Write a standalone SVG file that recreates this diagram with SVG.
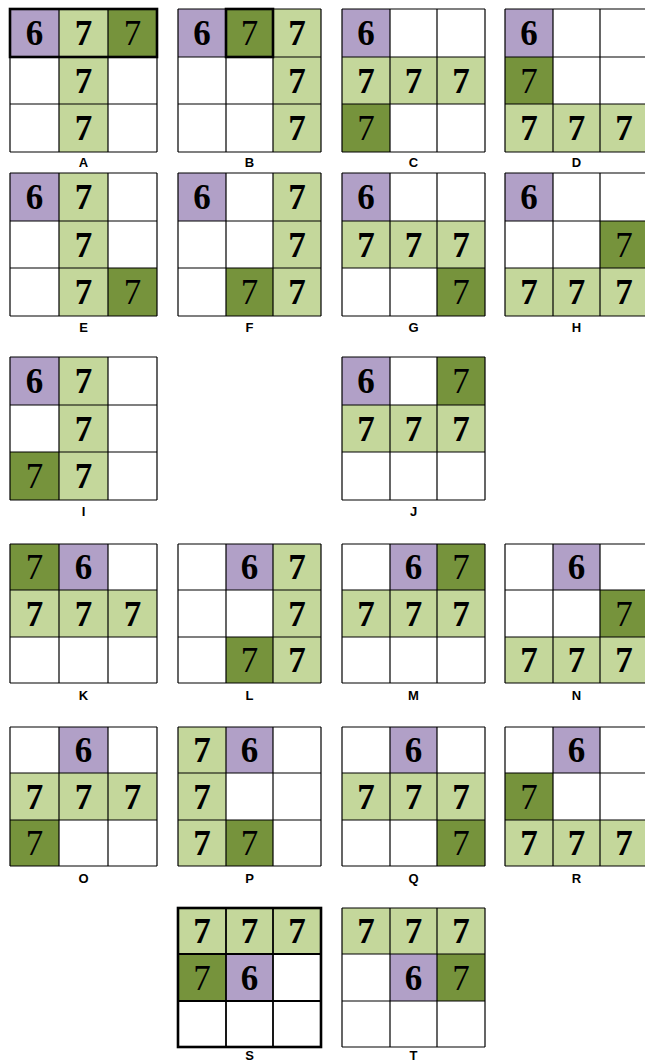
<svg xmlns="http://www.w3.org/2000/svg" xmlns:xlink="http://www.w3.org/1999/xlink" width="645" height="1061" viewBox="0 0 645 1061">
<style>
.bg{fill:#fff}
.p{fill:#b1a0c7}
.l{fill:#c4d79b}
.d{fill:#76933c}
.gl{fill:none;stroke:#000;stroke-width:1.2}
.tk{fill:none;stroke:#000;stroke-width:2.6}
.n{font-family:"Liberation Serif","Times New Roman",serif;font-size:35px;text-anchor:middle;fill:#000}
.b{font-weight:bold}
.lab{font-family:"Liberation Sans",Arial,sans-serif;font-weight:bold;font-size:13px;text-anchor:middle;fill:#000}
</style>
<defs>
<path id="g1" d="M0,0H147M0,48H147M0,95H147M0,143H147M0,0V143M49,0V143M98,0V143M147,0V143"/>
<path id="g2" d="M0,0H143M0,48H143M0,95H143M0,143H143M0,0V143M48,0V143M95,0V143M143,0V143"/>
<path id="g3" d="M0,0H147M0,46H147M0,93H147M0,139H147M0,0V139M49,0V139M98,0V139M147,0V139"/>
<path id="g4" d="M0,0H143M0,46H143M0,93H143M0,139H143M0,0V139M48,0V139M95,0V139M143,0V139"/>
</defs>
<rect width="645" height="1061" fill="#fff"/>

<g id="grid-A" transform="translate(10,9)">
<rect class="bg" width="147" height="143"/>
<rect class="p" x="0" y="0" width="49" height="48"/>
<rect class="l" x="49" y="0" width="49" height="143"/>
<rect class="d" x="98" y="0" width="49" height="48"/>
<use href="#g1" class="gl"/>
<rect class="tk" x="0" y="0" width="147" height="48"/>
<text class="n b" x="24.5" y="36">6</text>
<text class="n b" x="73.5" y="36">7</text>
<text class="n" x="122.5" y="36">7</text>
<text class="n b" x="73.5" y="83.5">7</text>
<text class="n b" x="73.5" y="131">7</text>
<text class="lab" x="73.5" y="158">A</text>
</g>

<g id="grid-B" transform="translate(178,9)">
<rect class="bg" width="143" height="143"/>
<rect class="p" x="0" y="0" width="48" height="48"/>
<rect class="d" x="48" y="0" width="47" height="48"/>
<rect class="l" x="95" y="0" width="48" height="143"/>
<use href="#g2" class="gl"/>
<rect class="tk" x="48" y="0" width="47" height="48"/>
<text class="n b" x="24" y="36">6</text>
<text class="n" x="71.5" y="36">7</text>
<text class="n b" x="119" y="36">7</text>
<text class="n b" x="119" y="83.5">7</text>
<text class="n b" x="119" y="131">7</text>
<text class="lab" x="71.5" y="158">B</text>
</g>

<g id="grid-C" transform="translate(342,9)">
<rect class="bg" width="143" height="143"/>
<rect class="p" x="0" y="0" width="48" height="48"/>
<rect class="l" x="0" y="48" width="143" height="47"/>
<rect class="d" x="0" y="95" width="48" height="48"/>
<use href="#g2" class="gl"/>
<text class="n b" x="24" y="36">6</text>
<text class="n b" x="24" y="83.5">7</text>
<text class="n b" x="71.5" y="83.5">7</text>
<text class="n b" x="119" y="83.5">7</text>
<text class="n" x="24" y="131">7</text>
<text class="lab" x="71.5" y="158">C</text>
</g>

<g id="grid-D" transform="translate(505,9)">
<rect class="bg" width="143" height="143"/>
<rect class="p" x="0" y="0" width="48" height="48"/>
<rect class="d" x="0" y="48" width="48" height="47"/>
<rect class="l" x="0" y="95" width="143" height="48"/>
<use href="#g2" class="gl"/>
<text class="n b" x="24" y="36">6</text>
<text class="n" x="24" y="83.5">7</text>
<text class="n b" x="24" y="131">7</text>
<text class="n b" x="71.5" y="131">7</text>
<text class="n b" x="119" y="131">7</text>
<text class="lab" x="71.5" y="158">D</text>
</g>

<g id="grid-E" transform="translate(10,173)">
<rect class="bg" width="147" height="143"/>
<rect class="p" x="0" y="0" width="49" height="48"/>
<rect class="l" x="49" y="0" width="49" height="143"/>
<rect class="d" x="98" y="95" width="49" height="48"/>
<use href="#g1" class="gl"/>
<text class="n b" x="24.5" y="36">6</text>
<text class="n b" x="73.5" y="36">7</text>
<text class="n b" x="73.5" y="83.5">7</text>
<text class="n b" x="73.5" y="131">7</text>
<text class="n" x="122.5" y="131">7</text>
<text class="lab" x="73.5" y="159">E</text>
</g>

<g id="grid-F" transform="translate(178,173)">
<rect class="bg" width="143" height="143"/>
<rect class="p" x="0" y="0" width="48" height="48"/>
<rect class="l" x="95" y="0" width="48" height="143"/>
<rect class="d" x="48" y="95" width="47" height="48"/>
<use href="#g2" class="gl"/>
<text class="n b" x="24" y="36">6</text>
<text class="n b" x="119" y="36">7</text>
<text class="n b" x="119" y="83.5">7</text>
<text class="n b" x="119" y="131">7</text>
<text class="n" x="71.5" y="131">7</text>
<text class="lab" x="71.5" y="159">F</text>
</g>

<g id="grid-G" transform="translate(342,173)">
<rect class="bg" width="143" height="143"/>
<rect class="p" x="0" y="0" width="48" height="48"/>
<rect class="l" x="0" y="48" width="143" height="47"/>
<rect class="d" x="95" y="95" width="48" height="48"/>
<use href="#g2" class="gl"/>
<text class="n b" x="24" y="36">6</text>
<text class="n b" x="24" y="83.5">7</text>
<text class="n b" x="71.5" y="83.5">7</text>
<text class="n b" x="119" y="83.5">7</text>
<text class="n" x="119" y="131">7</text>
<text class="lab" x="71.5" y="159">G</text>
</g>

<g id="grid-H" transform="translate(505,173)">
<rect class="bg" width="143" height="143"/>
<rect class="p" x="0" y="0" width="48" height="48"/>
<rect class="d" x="95" y="48" width="48" height="47"/>
<rect class="l" x="0" y="95" width="143" height="48"/>
<use href="#g2" class="gl"/>
<text class="n b" x="24" y="36">6</text>
<text class="n" x="119" y="83.5">7</text>
<text class="n b" x="24" y="131">7</text>
<text class="n b" x="71.5" y="131">7</text>
<text class="n b" x="119" y="131">7</text>
<text class="lab" x="71.5" y="159">H</text>
</g>

<g id="grid-I" transform="translate(10,357)">
<rect class="bg" width="147" height="143"/>
<rect class="p" x="0" y="0" width="49" height="48"/>
<rect class="l" x="49" y="0" width="49" height="143"/>
<rect class="d" x="0" y="95" width="49" height="48"/>
<use href="#g1" class="gl"/>
<text class="n b" x="24.5" y="36">6</text>
<text class="n b" x="73.5" y="36">7</text>
<text class="n b" x="73.5" y="83.5">7</text>
<text class="n b" x="73.5" y="131">7</text>
<text class="n" x="24.5" y="131">7</text>
<text class="lab" x="73.5" y="159">I</text>
</g>

<g id="grid-J" transform="translate(342,357)">
<rect class="bg" width="143" height="143"/>
<rect class="p" x="0" y="0" width="48" height="48"/>
<rect class="d" x="95" y="0" width="48" height="48"/>
<rect class="l" x="0" y="48" width="143" height="47"/>
<use href="#g2" class="gl"/>
<text class="n b" x="24" y="36">6</text>
<text class="n" x="119" y="36">7</text>
<text class="n b" x="24" y="83.5">7</text>
<text class="n b" x="71.5" y="83.5">7</text>
<text class="n b" x="119" y="83.5">7</text>
<text class="lab" x="71.5" y="159">J</text>
</g>

<g id="grid-K" transform="translate(10,544)">
<rect class="bg" width="147" height="139"/>
<rect class="d" x="0" y="0" width="49" height="46"/>
<rect class="p" x="49" y="0" width="49" height="46"/>
<rect class="l" x="0" y="46" width="147" height="47"/>
<use href="#g3" class="gl"/>
<text class="n" x="24.5" y="35">7</text>
<text class="n b" x="73.5" y="35">6</text>
<text class="n b" x="24.5" y="81.5">7</text>
<text class="n b" x="73.5" y="81.5">7</text>
<text class="n b" x="122.5" y="81.5">7</text>
<text class="lab" x="73.5" y="156">K</text>
</g>

<g id="grid-L" transform="translate(178,544)">
<rect class="bg" width="143" height="139"/>
<rect class="p" x="48" y="0" width="47" height="46"/>
<rect class="l" x="95" y="0" width="48" height="139"/>
<rect class="d" x="48" y="93" width="47" height="46"/>
<use href="#g4" class="gl"/>
<text class="n b" x="71.5" y="35">6</text>
<text class="n b" x="119" y="35">7</text>
<text class="n b" x="119" y="81.5">7</text>
<text class="n b" x="119" y="128">7</text>
<text class="n" x="71.5" y="128">7</text>
<text class="lab" x="71.5" y="156">L</text>
</g>

<g id="grid-M" transform="translate(342,544)">
<rect class="bg" width="143" height="139"/>
<rect class="p" x="48" y="0" width="47" height="46"/>
<rect class="d" x="95" y="0" width="48" height="46"/>
<rect class="l" x="0" y="46" width="143" height="47"/>
<use href="#g4" class="gl"/>
<text class="n b" x="71.5" y="35">6</text>
<text class="n" x="119" y="35">7</text>
<text class="n b" x="24" y="81.5">7</text>
<text class="n b" x="71.5" y="81.5">7</text>
<text class="n b" x="119" y="81.5">7</text>
<text class="lab" x="71.5" y="156">M</text>
</g>

<g id="grid-N" transform="translate(505,544)">
<rect class="bg" width="143" height="139"/>
<rect class="p" x="48" y="0" width="47" height="46"/>
<rect class="d" x="95" y="46" width="48" height="47"/>
<rect class="l" x="0" y="93" width="143" height="46"/>
<use href="#g4" class="gl"/>
<text class="n b" x="71.5" y="35">6</text>
<text class="n" x="119" y="81.5">7</text>
<text class="n b" x="24" y="128">7</text>
<text class="n b" x="71.5" y="128">7</text>
<text class="n b" x="119" y="128">7</text>
<text class="lab" x="71.5" y="156">N</text>
</g>

<g id="grid-O" transform="translate(10,727)">
<rect class="bg" width="147" height="139"/>
<rect class="p" x="49" y="0" width="49" height="46"/>
<rect class="l" x="0" y="46" width="147" height="47"/>
<rect class="d" x="0" y="93" width="49" height="46"/>
<use href="#g3" class="gl"/>
<text class="n b" x="73.5" y="35">6</text>
<text class="n b" x="24.5" y="81.5">7</text>
<text class="n b" x="73.5" y="81.5">7</text>
<text class="n b" x="122.5" y="81.5">7</text>
<text class="n" x="24.5" y="128">7</text>
<text class="lab" x="73.5" y="156">O</text>
</g>

<g id="grid-P" transform="translate(178,727)">
<rect class="bg" width="143" height="139"/>
<rect class="l" x="0" y="0" width="48" height="139"/>
<rect class="p" x="48" y="0" width="47" height="46"/>
<rect class="d" x="48" y="93" width="47" height="46"/>
<use href="#g4" class="gl"/>
<text class="n b" x="24" y="35">7</text>
<text class="n b" x="71.5" y="35">6</text>
<text class="n b" x="24" y="81.5">7</text>
<text class="n b" x="24" y="128">7</text>
<text class="n" x="71.5" y="128">7</text>
<text class="lab" x="71.5" y="156">P</text>
</g>

<g id="grid-Q" transform="translate(342,727)">
<rect class="bg" width="143" height="139"/>
<rect class="p" x="48" y="0" width="47" height="46"/>
<rect class="l" x="0" y="46" width="143" height="47"/>
<rect class="d" x="95" y="93" width="48" height="46"/>
<use href="#g4" class="gl"/>
<text class="n b" x="71.5" y="35">6</text>
<text class="n b" x="24" y="81.5">7</text>
<text class="n b" x="71.5" y="81.5">7</text>
<text class="n b" x="119" y="81.5">7</text>
<text class="n" x="119" y="128">7</text>
<text class="lab" x="71.5" y="156">Q</text>
</g>

<g id="grid-R" transform="translate(505,727)">
<rect class="bg" width="143" height="139"/>
<rect class="p" x="48" y="0" width="47" height="46"/>
<rect class="d" x="0" y="46" width="48" height="47"/>
<rect class="l" x="0" y="93" width="143" height="46"/>
<use href="#g4" class="gl"/>
<text class="n b" x="71.5" y="35">6</text>
<text class="n" x="24" y="81.5">7</text>
<text class="n b" x="24" y="128">7</text>
<text class="n b" x="71.5" y="128">7</text>
<text class="n b" x="119" y="128">7</text>
<text class="lab" x="71.5" y="156">R</text>
</g>

<g id="grid-S" transform="translate(178,908)">
<rect class="bg" width="143" height="139"/>
<rect class="l" x="0" y="0" width="143" height="46"/>
<rect class="d" x="0" y="46" width="48" height="47"/>
<rect class="p" x="48" y="46" width="47" height="47"/>
<use href="#g4" class="gl" style="stroke-width:1.8"/>
<rect class="tk" x="0" y="0" width="143" height="139"/>
<text class="n b" x="24" y="35">7</text>
<text class="n b" x="71.5" y="35">7</text>
<text class="n b" x="119" y="35">7</text>
<text class="n" x="24" y="81.5">7</text>
<text class="n b" x="71.5" y="81.5">6</text>
<text class="lab" x="71.5" y="152">S</text>
</g>

<g id="grid-T" transform="translate(342,908)">
<rect class="bg" width="143" height="139"/>
<rect class="l" x="0" y="0" width="143" height="46"/>
<rect class="p" x="48" y="46" width="47" height="47"/>
<rect class="d" x="95" y="46" width="48" height="47"/>
<use href="#g4" class="gl"/>
<text class="n b" x="24" y="35">7</text>
<text class="n b" x="71.5" y="35">7</text>
<text class="n b" x="119" y="35">7</text>
<text class="n b" x="71.5" y="81.5">6</text>
<text class="n" x="119" y="81.5">7</text>
<text class="lab" x="71.5" y="152">T</text>
</g>

<g id="connectors"></g>
</svg>
